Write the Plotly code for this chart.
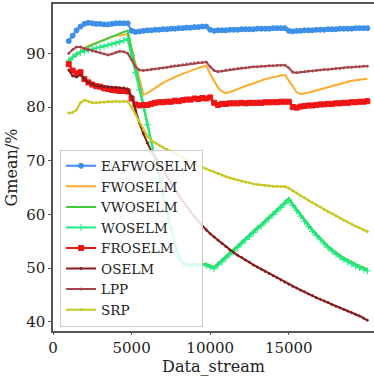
import plotly.graph_objects as go

X = list(range(1000, 20001, 250))
X_TICKS = [0, 5000, 10000, 15000]
X_TICK_TEXT = ["0", "5000", "10000", "15000"]
Y_TICKS = [40, 50, 60, 70, 80, 90]

EAFWOSELM = [
    92.3, 93.3, 94.3, 95.0, 95.5, 95.7, 95.6, 95.5, 95.5, 95.4, 95.4, 95.5,
    95.6, 95.6, 95.6, 95.6, 94.2, 94.0, 94.1, 94.2, 94.3, 94.3, 94.4, 94.4,
    94.5, 94.5, 94.6, 94.6, 94.7, 94.7, 94.8, 94.8, 94.9, 94.9, 95.0, 95.0,
    94.4, 94.2, 94.3, 94.3, 94.3, 94.4, 94.4, 94.4, 94.5, 94.5, 94.5, 94.5,
    94.6, 94.6, 94.6, 94.6, 94.7, 94.7, 94.7, 94.7, 94.2, 94.1, 94.2, 94.2,
    94.3, 94.3, 94.3, 94.4, 94.4, 94.4, 94.5, 94.5, 94.5, 94.6, 94.6, 94.6,
    94.6, 94.7, 94.7, 94.7, 94.7]

FWOSELM = [
    88.7, 89.3, 89.9, 90.5, 91.0, 91.4, 91.7, 92.0, 92.3, 92.6, 92.9, 93.1,
    93.3, 93.4, 93.5, 93.6, 91.0, 88.0, 85.0, 82.3, 82.6, 83.1, 83.6, 84.0,
    84.5, 84.9, 85.3, 85.6, 85.9, 86.2, 86.5, 86.8, 87.0, 87.3, 87.5, 87.7,
    86.2, 84.8, 83.6, 82.9, 82.6, 82.8, 83.1, 83.4, 83.7, 83.9, 84.2, 84.4,
    84.7, 84.9, 85.2, 85.4, 85.6, 85.8, 85.9, 86.0, 85.0, 83.8, 82.8, 82.4,
    82.5, 82.7, 82.9, 83.1, 83.4, 83.6, 83.8, 84.0, 84.2, 84.4, 84.6, 84.7,
    84.9, 85.0, 85.1, 85.2, 85.3]

VWOSELM = [
    88.7, 89.2, 89.8, 90.3, 90.8, 91.2, 91.6, 91.9, 92.3, 92.6, 92.9, 93.2,
    93.5, 93.7, 94.0, 94.2, 91.0, 87.5, 84.0, 80.5, 77.0, 73.6, 70.2, 66.9,
    63.6, 60.4, 57.3, 54.5, 52.2, 51.1, 50.8, 50.7, 50.8, 50.8, 50.9, 50.8,
    50.5, 50.2, 50.9, 51.5, 52.2, 52.9, 53.5, 54.2, 54.9, 55.6, 56.2, 56.9,
    57.6, 58.2, 58.9, 59.6, 60.3, 60.9, 61.6, 62.3, 63.0, 62.0, 61.0, 60.0,
    59.0, 58.1, 57.2, 56.4, 55.6, 54.8, 54.1, 53.5, 52.9, 52.4, 51.9, 51.5,
    51.1, 50.7, 50.4, 50.1, 49.8]

WOSELM = [
    88.6, 89.3, 89.9, 90.2, 90.4, 90.6, 90.8, 91.0, 91.1, 91.3, 91.5, 91.7,
    91.9, 92.1, 92.4, 92.7, 89.7, 86.4, 83.2, 80.0, 76.7, 73.5, 70.2, 67.0,
    63.8, 60.6, 57.4, 54.4, 52.0, 50.9, 50.5, 50.4, 50.5, 50.5, 50.6, 50.5,
    50.2, 49.9, 50.6, 51.2, 51.9, 52.6, 53.2, 53.9, 54.6, 55.3, 55.9, 56.6,
    57.3, 57.9, 58.6, 59.3, 60.0, 60.6, 61.3, 62.0, 62.7, 61.7, 60.7, 59.7,
    58.7, 57.8, 56.9, 56.1, 55.3, 54.5, 53.8, 53.2, 52.6, 52.1, 51.6, 51.2,
    50.8, 50.4, 50.1, 49.8, 49.5]

FROSELM = [
    88.0, 86.8, 86.3, 86.5, 85.2, 84.6, 84.2, 83.9, 83.8, 83.5, 83.4, 83.2,
    83.1, 83.0, 83.0, 82.9, 81.6, 80.5, 80.3, 80.4, 80.4, 80.6, 80.8, 80.9,
    80.9, 81.0, 81.0, 81.2, 81.1, 81.3, 81.4, 81.4, 81.6, 81.5, 81.7, 81.6,
    81.8, 80.8, 80.4, 80.6, 80.6, 80.7, 80.7, 80.7, 80.8, 80.7, 80.8, 80.8,
    80.8, 80.8, 80.9, 80.9, 80.9, 80.9, 81.0, 81.0, 81.0, 80.0, 79.9, 80.1,
    80.2, 80.3, 80.3, 80.4, 80.5, 80.5, 80.6, 80.6, 80.7, 80.7, 80.8, 80.8,
    80.9, 80.9, 81.0, 81.0, 81.1]

OSELM = [
    86.9, 85.8, 85.6, 86.0, 85.2, 84.6, 84.3, 84.0, 83.9, 83.8, 83.8, 83.7,
    83.7, 83.6, 83.6, 83.4, 82.0, 79.5, 77.0, 75.0, 73.3, 71.8, 70.6, 69.4,
    68.2, 67.0, 65.8, 64.7, 63.6, 62.5, 61.5, 60.5, 59.6, 58.7, 57.9, 57.1,
    56.4, 55.8, 55.2, 54.6, 54.0, 53.4, 52.9, 52.4, 52.0, 51.5, 51.1, 50.6,
    50.2, 49.8, 49.4, 49.0, 48.6, 48.2, 47.8, 47.4, 47.0, 46.6, 46.3, 45.9,
    45.6, 45.2, 44.9, 44.5, 44.2, 43.9, 43.6, 43.2, 42.9, 42.6, 42.3, 42.0,
    41.7, 41.4, 41.1, 40.7, 40.3]

LPP = [
    90.0, 90.7, 91.2, 91.2, 90.9, 90.7, 90.5, 90.3, 90.1, 89.9, 89.7, 89.9,
    90.2, 90.4, 90.3, 90.0, 88.8, 87.5, 86.9, 86.8, 86.9, 87.0, 87.1, 87.2,
    87.3, 87.4, 87.6, 87.7, 87.8, 87.9, 88.0, 88.1, 88.2, 88.3, 88.3, 88.4,
    87.5, 86.8, 86.6, 86.7, 86.9, 87.0, 87.1, 87.2, 87.3, 87.3, 87.4, 87.5,
    87.5, 87.6, 87.6, 87.7, 87.7, 87.8, 87.8, 87.8, 87.3, 86.5, 86.4, 86.5,
    86.6, 86.7, 86.7, 86.8, 86.9, 87.0, 87.0, 87.1, 87.2, 87.2, 87.3, 87.4,
    87.4, 87.5, 87.5, 87.6, 87.6]

SRP = [
    78.9, 79.0, 79.5, 80.8, 81.3, 81.1, 80.8, 80.8, 80.9, 80.9, 81.0, 81.0,
    81.1, 81.0, 81.1, 81.0, 80.0, 78.6, 77.2, 75.8, 74.6, 73.8, 73.3, 72.9,
    72.5, 72.1, 71.8, 71.4, 71.1, 70.7, 70.3, 69.9, 69.5, 69.1, 68.8, 68.5,
    68.2, 67.9, 67.6, 67.3, 67.0, 66.8, 66.6, 66.4, 66.2, 66.0, 65.9, 65.7,
    65.6, 65.5, 65.4, 65.3, 65.2, 65.2, 65.2, 65.2, 64.9, 64.4, 64.0, 63.5,
    63.1, 62.6, 62.2, 61.8, 61.4, 60.9, 60.5, 60.1, 59.7, 59.3, 58.9, 58.6,
    58.2, 57.8, 57.5, 57.1, 56.8]

SERIES = [
    ("EAFWOSELM", EAFWOSELM, "#3d8fe8", "circle", 5),
    ("FWOSELM", FWOSELM, "#ffab2e", None, 0),
    ("VWOSELM", VWOSELM, "#3fcc3f", None, 0),
    ("WOSELM", WOSELM, "#1fea80", "cross-thin", 5),
    ("FROSELM", FROSELM, "#ee1515", "square", 5),
    ("OSELM", OSELM, "#861c1c", "circle", 2),
    ("LPP", LPP, "#a8444c", "circle", 2),
    ("SRP", SRP, "#c8c822", "circle", 2),
]

fig = go.Figure()
for name, ys, color, sym, msize in SERIES:
    if sym is None:
        mode = "lines"
        marker = None
    else:
        mode = "lines+markers"
        marker = dict(symbol=sym, size=msize, color=color,
                      line=dict(color=color, width=1))
    fig.add_trace(go.Scatter(x=X, y=ys, name=name, mode=mode,
                             line=dict(color=color, width=2),
                             marker=marker))

font_family = "DejaVu Serif"
fig.update_layout(
    width=374, height=376,
    margin=dict(l=53, r=0, t=4, b=45),
    paper_bgcolor="white", plot_bgcolor="white",
    font=dict(family=font_family, size=15, color="#222"),
    showlegend=True,
    legend=dict(x=0.022, y=0.555, xanchor="left", yanchor="top",
                font=dict(family=font_family, size=13.5, color="#222"),
                bgcolor="rgba(255,255,255,0.85)", bordercolor="#cccccc",
                borderwidth=1, itemwidth=30, tracegroupgap=0),
    xaxis=dict(range=[0, 20420], tickvals=X_TICKS, ticktext=X_TICK_TEXT,
               ticks="outside", ticklen=2, tickcolor="#555",
               showline=True, linecolor="#555", linewidth=1.5, mirror=True,
               showgrid=False, zeroline=False,
               tickfont=dict(family=font_family, size=15, color="#222"),
               title=dict(text="Data_stream", standoff=5,
                          font=dict(family=font_family, size=16, color="#222"))),
    yaxis=dict(range=[38.3, 99.2], tickvals=Y_TICKS,
               ticks="outside", ticklen=3, tickcolor="#555",
               showline=True, linecolor="#555", linewidth=1.5,
               showgrid=False, zeroline=False,
               tickfont=dict(family=font_family, size=15, color="#222"),
               title=dict(text="Gmean/%", standoff=5,
                          font=dict(family=font_family, size=16, color="#222"))),
)

fig.write_html("out.html")
